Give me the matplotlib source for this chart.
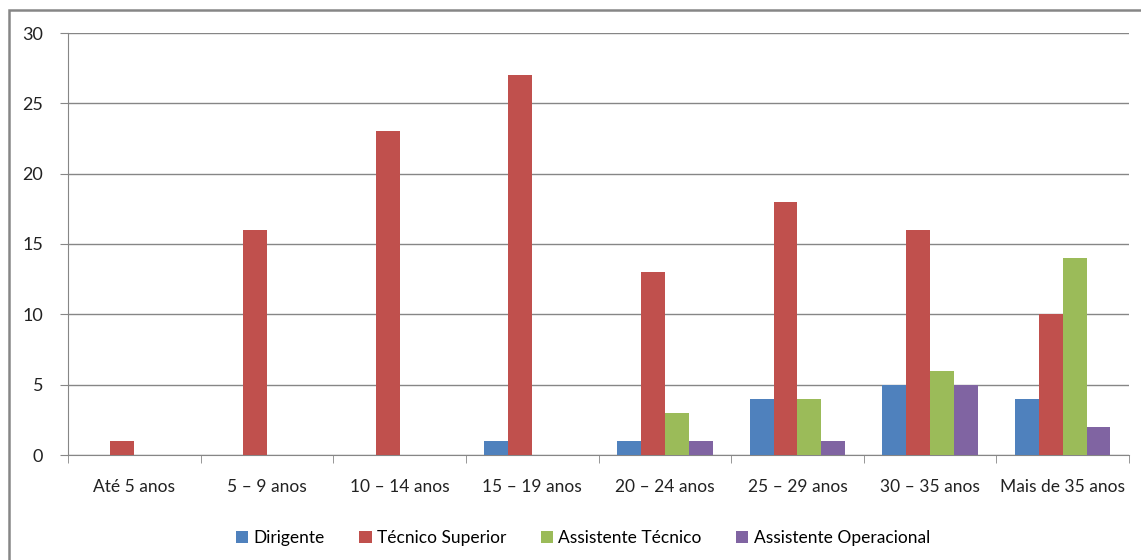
import numpy as np
import matplotlib
matplotlib.use("Agg")
import matplotlib.pyplot as plt
from matplotlib.patches import Rectangle

categories = ["Até 5 anos", "5 – 9 anos", "10 – 14 anos", "15 – 19 anos",
              "20 – 24 anos", "25 – 29 anos", "30 – 35 anos", "Mais de 35 anos"]
dirigente = [0, 0, 0, 1, 1, 4, 5, 4]
tecnico_superior = [1, 16, 23, 27, 13, 18, 16, 10]
assistente_tecnico = [0, 0, 0, 0, 3, 4, 6, 14]
assistente_operacional = [0, 0, 0, 0, 1, 1, 5, 2]

series = [
    ("Dirigente", dirigente, "#4F81BD"),
    ("Técnico Superior", tecnico_superior, "#C0504D"),
    ("Assistente Técnico", assistente_tecnico, "#9BBB59"),
    ("Assistente Operacional", assistente_operacional, "#8064A2"),
]

plt.rcParams['font.family'] = ['Lato', 'DejaVu Sans']
grey = "#868686"

fig = plt.figure(figsize=(11.41, 5.6), dpi=100)
ax = fig.add_axes([68 / 1141, 1 - 455 / 560, (1129 - 68) / 1141, (455 - 33) / 560])

# outer chart frame
fig.patches.append(Rectangle((9 / 1141, -0.1), 1.2, 1 - 10 / 560 + 0.1,
                             transform=fig.transFigure, fill=False,
                             edgecolor=grey, linewidth=1.8))

x = np.arange(len(categories))
w = 0.18
for i, (name, vals, col) in enumerate(series):
    ax.bar(x + (i - 1.5) * w, vals, w, color=col, label=name, zorder=3)

ax.set_xlim(-0.5, len(categories) - 0.5)
ax.set_ylim(0, 30)
ax.set_yticks(range(0, 31, 5))
ax.yaxis.grid(True, color=grey, linewidth=1, zorder=0)

ax.set_xticks(x)
ax.set_xticklabels(categories, fontsize=12.5, color="#222222")
ax.set_xticks(np.arange(-0.5, len(categories)), minor=True)
ax.tick_params(axis='x', which='major', length=0, pad=17)
ax.tick_params(axis='x', which='minor', length=6, color=grey)
ax.tick_params(axis='y', length=6, color=grey, labelsize=13, labelcolor="#222222", pad=12)

for s in ['top', 'right']:
    ax.spines[s].set_visible(False)
for s in ['left', 'bottom']:
    ax.spines[s].set_color(grey)

fig.legend(loc='center', bbox_to_anchor=(583 / 1141, 1 - 538 / 560), ncol=4,
           frameon=False, fontsize=12.5, handlelength=0.7, handleheight=0.7,
           handletextpad=0.3, columnspacing=2.0)

fig.savefig("out.png", dpi=100)
